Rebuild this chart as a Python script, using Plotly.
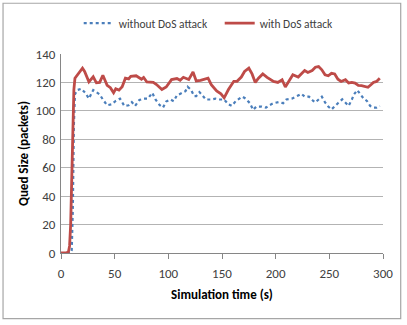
import plotly.graph_objects as go

# ---- data ----
t_with = [0, 2, 5, 7, 8, 9, 10, 11, 12, 13, 16, 20, 22, 26, 30, 33, 36, 39, 43, 46, 49, 51, 54, 57,
          60, 63, 65, 70, 75, 77, 80, 86, 89, 94, 98, 103, 108, 111, 114, 119, 123, 126, 130, 133,
          137, 140, 145, 149, 152, 156, 161, 164, 168, 171, 175, 178, 181, 184, 188, 192, 195, 198,
          202, 206, 209, 212, 216, 221, 224, 227, 230, 234, 237, 240, 243, 246, 249, 252, 255, 258,
          261, 265, 268, 271, 274, 277, 280, 283, 286, 289, 291, 294, 297]
q_with = [0, 0, 0, 1, 5, 20, 60, 95, 115, 123, 126, 130, 127.7, 120.4, 124, 119.7, 120, 125, 118,
          116.3, 112.7, 115.5, 114.6, 117, 123, 122.5, 124.3, 124.7, 122.3, 123.5, 120.3, 120, 118.5,
          115, 116.8, 122, 122.7, 121.5, 123.6, 122, 127.3, 121, 121.4, 121.9, 123, 118.4, 114, 112,
          109.2, 115, 120.8, 120.8, 123.8, 127.7, 130, 126, 120, 123, 126, 123.6, 122.3, 120.7, 120,
          121.9, 116.8, 120.7, 125.4, 123.8, 126, 128.4, 127, 128.4, 130.7, 131.2, 128.9, 125.4,
          124.7, 126.4, 126, 122.3, 120.7, 121.9, 119.6, 120, 119.6, 118, 117.8, 117.3, 116.6, 118.5,
          120, 120.7, 123]

t_without = [0, 5, 9, 10, 11, 12, 13, 15, 19, 23, 26, 30, 34, 36, 39, 43, 47, 51, 55, 59, 63, 66,
             69, 73, 77, 81, 85, 88, 92, 95, 98, 102, 105, 108, 112, 116, 118, 121, 124, 126, 129,
             132, 135, 140, 144, 148, 152, 156, 159, 163, 165, 169, 172, 176, 179, 182, 187, 191,
             194, 198, 203, 207, 210, 215, 220, 224, 227, 231, 235, 237, 240, 243, 246, 249, 252,
             255, 258, 262, 265, 268, 271, 273, 276, 279, 282, 285, 288, 291, 294, 297]
q_without = [0, 0, 0, 2, 30, 90, 111.6, 114.6, 115.5, 112.3, 108.6, 114.6, 112.7, 111.6, 108,
             103.9, 104.6, 107, 108.6, 103.5, 103.9, 106.2, 103.5, 107.6, 108.6, 108.6, 112.7, 108,
             104, 102.3, 106.6, 108, 106.8, 110.9, 112.3, 113.9, 116.9, 115, 110.4, 110.4, 113.2,
             110.4, 108, 108, 108.6, 108, 108, 104.6, 103.5, 107, 108, 110, 108.6, 105.4, 100.7, 103,
             103, 102.3, 103.9, 105.4, 106.2, 105.4, 108, 108.6, 110.4, 112, 110, 110, 107, 105.9,
             108, 110, 106, 103, 101, 103.5, 105.4, 108.1, 106, 103.5, 108, 111.6, 114.6, 111.6,
             108.6, 107, 103.5, 102.3, 102.3, 103.5]

x_ticks = [0, 50, 100, 150, 200, 250, 300]
y_ticks = [0, 20, 40, 60, 80, 100, 120, 140]

FONT = "Carlito, Lato, 'Open Sans', sans-serif"

fig = go.Figure()
fig.add_trace(go.Scatter(
    x=t_without, y=q_without, mode="lines", name="without DoS attack",
    line=dict(color="#4a7ebb", width=2.2, dash="dot"),
))
fig.add_trace(go.Scatter(
    x=t_with, y=q_with, mode="lines", name="with DoS attack",
    line=dict(color="#be4b48", width=2.8),
))

fig.update_layout(
    width=407, height=325,
    margin=dict(l=61, r=24, t=54, b=72, autoexpand=False),
    paper_bgcolor="white", plot_bgcolor="white",
    font=dict(family=FONT, size=13, color="#404040"),
    showlegend=True,
    legend=dict(orientation="h", x=0.055, y=1.155, xanchor="left", yanchor="middle",
                font=dict(family=FONT, size=11.5, color="#404040"),
                itemwidth=30, tracegroupgap=0, entrywidth=96, bgcolor="rgba(0,0,0,0)"),
    shapes=[dict(type="rect", xref="paper", yref="paper",
                 x0=-0.18, x1=1.055, y0=-0.33, y1=1.255,
                 line=dict(color="#a6a6a6", width=1.2), layer="below")],
)
fig.update_xaxes(
    range=[0, 300], tickvals=x_ticks, ticktext=[str(v) for v in x_ticks],
    showgrid=False, zeroline=False, automargin=True,
    showline=True, linecolor="#868686", linewidth=1,
    ticks="outside", ticklen=5, tickcolor="#868686", ticklabelstandoff=3,
    tickfont=dict(family=FONT, size=13, color="#404040"),
    title=dict(text="<b>Simulation time (s)</b>", font=dict(family=FONT, size=13, color="#000000"),
               standoff=10),
)
fig.update_yaxes(
    range=[0, 140], tickvals=y_ticks, ticktext=[str(v) for v in y_ticks],
    showgrid=True, gridcolor="#b3b3b3", gridwidth=1, zeroline=False, automargin=True,
    showline=True, linecolor="#868686", linewidth=1,
    ticks="", ticklabelstandoff=2,
    tickfont=dict(family=FONT, size=13, color="#404040"),
    title=dict(text="<b>Qued Size (packets)</b>", font=dict(family=FONT, size=13, color="#000000"),
               standoff=4),
)

fig.write_html("out.html", config={"displayModeBar": False},
               post_script="document.body.style.margin='0';")
